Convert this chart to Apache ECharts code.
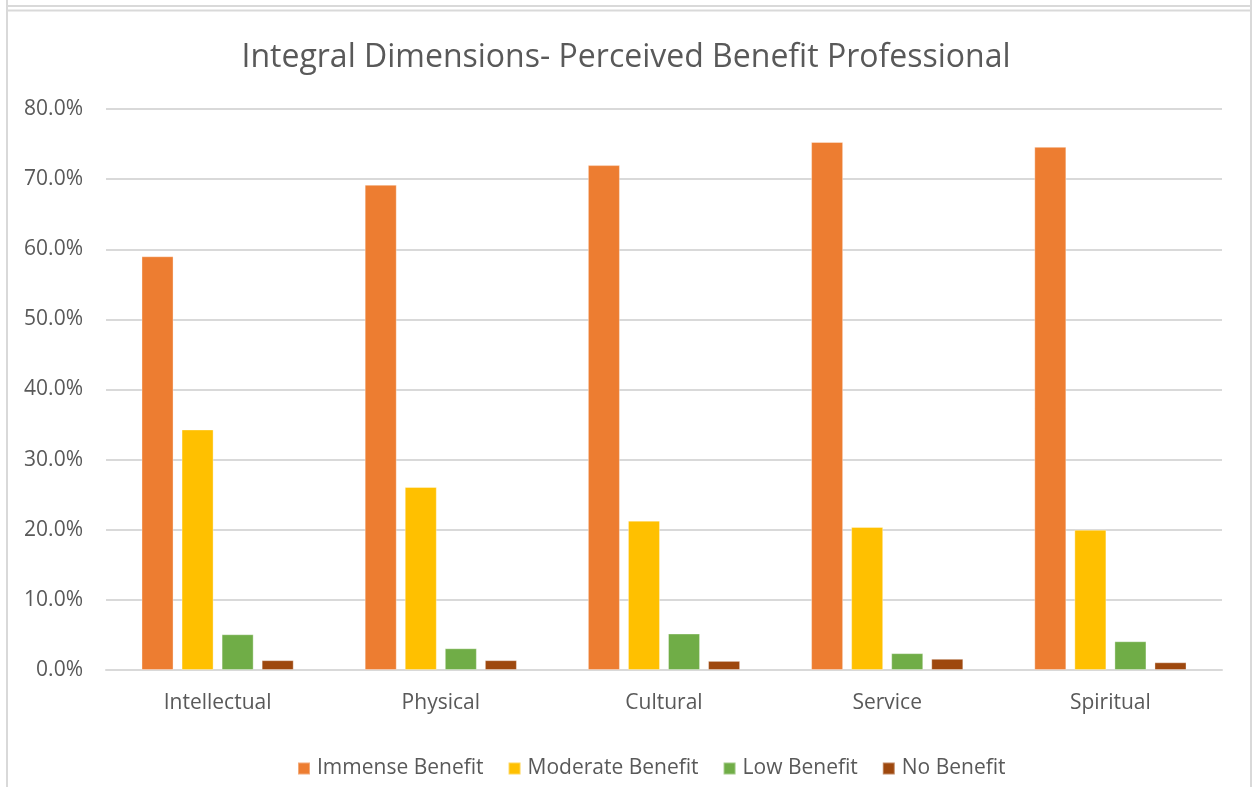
<!DOCTYPE html>
<html>
<head>
<meta charset="utf-8">
<script src="https://cdn.jsdelivr.net/npm/echarts@6/dist/echarts.min.js"></script>
<style>
html,body{margin:0;padding:0;background:#fff;}
#c{width:1252px;height:787px;}
</style>
</head>
<body>
<div id="c"></div>
<script>
const categories = ['Intellectual', 'Physical', 'Cultural', 'Service', 'Spiritual'];
const seriesNames = ['Immense Benefit', 'Moderate Benefit', 'Low Benefit', 'No Benefit'];
const immense = [59.0, 69.2, 72.0, 75.3, 74.6];
const moderate = [34.3, 26.1, 21.3, 20.4, 20.0];
const low = [5.1, 3.1, 5.2, 2.4, 4.1];
const none = [1.4, 1.4, 1.3, 1.6, 1.1];
const yTicks = [0, 10, 20, 30, 40, 50, 60, 70, 80];
const colors = ['#ED7D31', '#FFC000', '#70AD47', '#9E480E'];

const font = '"Open Sans", "Noto Sans", sans-serif';
const chart = echarts.init(document.getElementById('c'), null, {renderer: 'canvas'});
const values = [immense, moderate, low, none];
const borderCol = '#d9d9d9';
chart.setOption({
  animation: false,
  backgroundColor: '#fff',
  color: colors,
  title: {
    text: 'Integral Dimensions- Perceived Benefit Professional',
    left: 'center', top: 37,
    textStyle: {fontFamily: font, fontSize: 32, fontWeight: 'normal', color: '#595959'}
  },
  legend: {
    top: 753, left: 292,
    itemWidth: 12, itemHeight: 12, itemGap: 24,
    icon: 'rect',
    textStyle: {fontFamily: font, fontSize: 21, color: '#595959', padding: [0, 0, 0, 2]},
    data: seriesNames
  },
  grid: {left: 106, right: 30, top: 109, bottom: 117, containLabel: false},
  xAxis: {
    type: 'category', data: categories,
    axisLine: {lineStyle: {color: '#d9d9d9', width: 2}},
    axisTick: {show: false},
    axisLabel: {fontFamily: font, fontSize: 21, color: '#595959', margin: 23}
  },
  yAxis: {
    type: 'value', min: yTicks[0], max: yTicks[yTicks.length - 1], interval: 10,
    axisLine: {show: false}, axisTick: {show: false},
    splitLine: {lineStyle: {color: '#d9d9d9', width: 2}},
    axisLabel: {fontFamily: font, fontSize: 21, color: '#595959', margin: 23,
      formatter: v => v.toFixed(1) + '%'}
  },
  series: seriesNames.map((n, i) => ({
    name: n, type: 'bar', data: values[i],
    barGap: '25%', barCategoryGap: '31.8%',
    itemStyle: {color: colors[i], borderColor: 'rgba(255,255,255,0.35)', borderWidth: 1}
  })),
  graphic: [
    {type: 'line', shape: {x1: 7, y1: 6, x2: 1251, y2: 6}, style: {stroke: borderCol, lineWidth: 2}},
    {type: 'line', shape: {x1: 7, y1: 10.5, x2: 1251, y2: 10.5}, style: {stroke: borderCol, lineWidth: 2}},
    {type: 'line', shape: {x1: 7, y1: 0, x2: 7, y2: 787}, style: {stroke: borderCol, lineWidth: 2}},
    {type: 'line', shape: {x1: 1251, y1: 0, x2: 1251, y2: 787}, style: {stroke: borderCol, lineWidth: 2}}
  ]
});
</script>
</body>
</html>
